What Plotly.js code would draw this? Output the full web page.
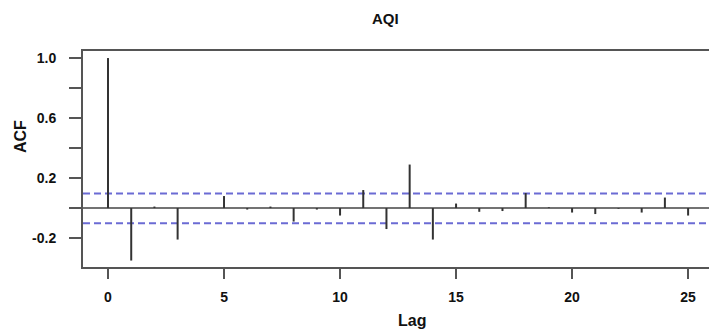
<!DOCTYPE html>
<html>
<head>
<meta charset="utf-8">
<script src="https://cdn.plot.ly/plotly-3.0.1.min.js"></script>
<style>
html,body{margin:0;padding:0;overflow:hidden;background:#fff;}
#chart{width:745px;height:332px;}
</style>
</head>
<body>
<div id="chart"></div>
<script>
// Data
const lags = [0,1,2,3,4,5,6,7,8,9,10,11,12,13,14,15,16,17,18,19,20,21,22,23,24,25];
const acf  = [1.0,-0.35,0.01,-0.21,0.0,0.08,-0.01,0.01,-0.09,-0.01,-0.05,0.12,-0.14,0.29,-0.21,0.03,-0.025,-0.02,0.10,0.005,-0.03,-0.04,-0.005,-0.03,0.07,-0.05];
const confUpper = 0.097;
const confLower = -0.101;
const yTickVals = [-0.2,0,0.2,0.4,0.6,0.8,1.0];
const yTickText = ['-0.2','','0.2','','0.6','','1.0'];
const xTickVals = [0,5,10,15,20,25];

const xs = [], ys = [];
lags.forEach((l,i)=>{ xs.push(l,l,null); ys.push(0,acf[i],null); });

const xRange = [-1.078, 27.28];
const fontFam = 'Liberation Sans, Arial, sans-serif';

const traces = [
  {x: xRange, y:[0,0], mode:'lines', line:{color:'#444', width:1.5}, hoverinfo:'skip'},
  {x: xRange, y:[confUpper,confUpper], mode:'lines', line:{color:'#6b6bd4', width:2, dash:'7px,4px'}, hoverinfo:'skip'},
  {x: xRange, y:[confLower,confLower], mode:'lines', line:{color:'#6b6bd4', width:2, dash:'7px,4px'}, hoverinfo:'skip'},
  {x: xs, y: ys, mode:'lines', line:{color:'#333', width:2}, hoverinfo:'skip'}
];

const layout = {
  width:745, height:332,
  margin:{l:83, r:4, t:51, b:65},
  showlegend:false,
  paper_bgcolor:'#fff', plot_bgcolor:'#fff',
  font:{family:fontFam, color:'#111'},
  xaxis:{
    range:xRange, showgrid:false, zeroline:false,
    showline:true, linecolor:'#555', linewidth:2, mirror:true,
    ticks:'outside', ticklen:10, tickwidth:2, tickcolor:'#555',
    tickvals:xTickVals, ticklabelstandoff:6,
    tickfont:{family:fontFam, size:14, weight:'bold', color:'#111'}
  },
  yaxis:{
    range:[-0.393, 1.047], showgrid:false, zeroline:false,
    showline:true, linecolor:'#555', linewidth:2, mirror:true,
    ticks:'outside', ticklen:12, tickwidth:2, tickcolor:'#555',
    tickvals:yTickVals, ticktext:yTickText, ticklabelstandoff:10,
    tickfont:{family:fontFam, size:14, weight:'bold', color:'#111'}
  },
  annotations:[
    {text:'AQI', xref:'paper', yref:'paper', x:(385-83)/658, y:1+(51-18)/216, xanchor:'center', yanchor:'middle', showarrow:false, font:{family:fontFam, size:15, weight:'bold', color:'#111'}},
    {text:'Lag', xref:'paper', yref:'paper', x:(412-83)/658, y:-(320-267)/216, xanchor:'center', yanchor:'middle', showarrow:false, font:{family:fontFam, size:16, weight:'bold', color:'#111'}},
    {text:'ACF', xref:'paper', yref:'paper', x:-(83-20)/658, y:(267-137)/216, xanchor:'center', yanchor:'middle', textangle:-90, showarrow:false, font:{family:fontFam, size:16, weight:'bold', color:'#111'}}
  ]
};

Plotly.newPlot('chart', traces, layout, {displayModeBar:false, staticPlot:true});
</script>
</body>
</html>
